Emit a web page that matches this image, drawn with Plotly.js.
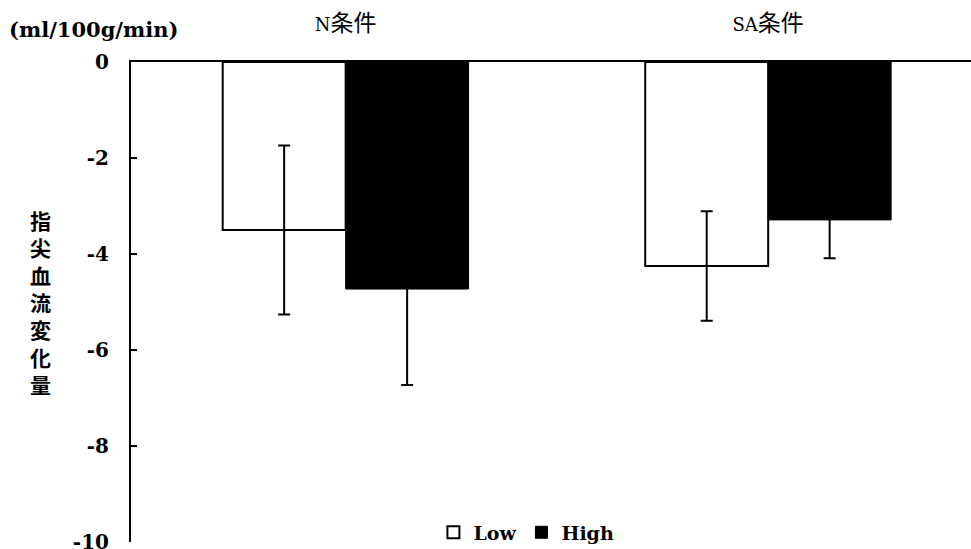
<!DOCTYPE html>
<html>
<head>
<meta charset="utf-8">
<script src="https://cdn.plot.ly/plotly-3.0.1.min.js"></script>
<style>html,body{margin:0;padding:0;background:#fff;}#chart{width:971px;height:549px;}</style>
</head>
<body>
<div id="chart"></div>
<script>
const categories = ['N条件', 'SA条件'];
const categoryLatin = ['N', 'SA'];
const categoryCJK = ['条件', '条件'];
const lowValues = [-3.5, -4.25];
const lowErrors = [1.76, 1.14];
const highValues = [-4.73, -3.29];
const highErrors = [2.0, 0.8];
const seriesNames = ['Low', 'High'];
const yTickVals = [0, -2, -4, -6, -8, -10];
const yTickText = ['0', '-2', '-4', '-6', '-8', '-10'];
const yTitleChars = ['指', '尖', '血', '流', '変', '化', '量'];
const unitText = '(ml/100g/min)';

const serif = 'DejaVu Serif, Noto Sans CJK JP, serif';
const errStyle = {type: 'data', visible: true, color: '#000', thickness: 2, width: 6};

const catTickText = categories.map((c, i) =>
  categoryLatin[i] + '<span style="font-size:23px;font-family:Noto Sans CJK JP">' + categoryCJK[i] + '</span>');

const traces = [
  {
    type: 'bar', name: seriesNames[0], x: categories, y: lowValues,
    marker: {color: '#ffffff', line: {color: '#000', width: 2}},
    error_y: Object.assign({array: lowErrors}, errStyle)
  },
  {
    type: 'bar', name: seriesNames[1], x: categories, y: highValues,
    marker: {color: '#000000', line: {color: '#000', width: 1}},
    error_y: Object.assign({array: highErrors}, errStyle)
  }
];

const layout = {
  width: 971, height: 549,
  margin: {l: 131, r: 0, t: 62, b: 7, pad: 0, autoexpand: false},
  paper_bgcolor: '#fff', plot_bgcolor: '#fff',
  barmode: 'group', bargap: 0.418, bargroupgap: 0,
  showlegend: true,
  legend: {
    orientation: 'h', x: 0.36, xanchor: 'left', y: 0.02, yanchor: 'middle',
    font: {family: serif, size: 19, color: '#000', weight: 'bold'},
    bgcolor: 'rgba(0,0,0,0)', traceorder: 'normal', itemwidth: 30
  },
  xaxis: {
    type: 'category', side: 'top', range: [-0.508, 1.48],
    automargin: false,
    tickvals: categories, ticktext: catTickText,
    showline: true, linecolor: '#000', linewidth: 2,
    showgrid: false, zeroline: false, ticks: '',
    ticklabelstandoff: 22,
    tickfont: {family: serif, size: 18, color: '#000'}
  },
  yaxis: {
    range: [-10, 0], autorange: false, automargin: false,
    tickvals: yTickVals, ticktext: yTickText,
    ticklabeloverflow: 'allow',
    showline: true, linecolor: '#000', linewidth: 2,
    showgrid: false, zeroline: false,
    ticks: 'inside', ticklen: 6, tickwidth: 2, tickcolor: '#000',
    ticklabelstandoff: 16,
    tickfont: {family: serif, size: 20, color: '#000', weight: 'bold'}
  },
  annotations: [
    {
      xref: 'paper', yref: 'paper', x: -0.108, y: 0.5, xanchor: 'center', yanchor: 'middle',
      text: yTitleChars.join('<br>'), showarrow: false,
      font: {family: 'Noto Sans CJK JP, sans-serif', size: 21, color: '#000', weight: 'bold'}
    },
    {
      xref: 'paper', yref: 'paper', x: -0.148, y: 1.067, xanchor: 'left', yanchor: 'middle',
      text: unitText, showarrow: false,
      font: {family: serif, size: 21, color: '#000', weight: 'bold'}
    }
  ]
};

Plotly.newPlot('chart', traces, layout, {displayModeBar: false, staticPlot: true});
</script>
</body>
</html>
